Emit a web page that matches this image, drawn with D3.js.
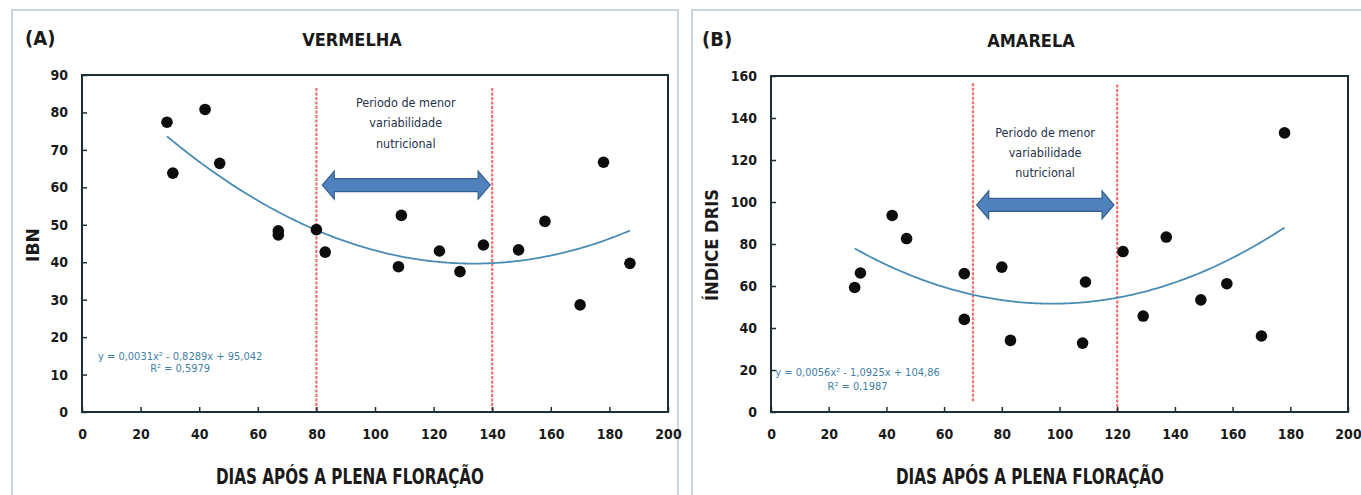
<!DOCTYPE html>
<html>
<head>
<meta charset="utf-8">
<script src="https://cdn.jsdelivr.net/npm/d3@7"></script>
<style>
  html, body { margin: 0; padding: 0; background: #ffffff; }
  svg { display: block; }
</style>
</head>
<body>
<svg id="chart" width="1361" height="495"></svg>
<script>
// ---------------- DATA ----------------
const xTicks = [0, 20, 40, 60, 80, 100, 120, 140, 160, 180, 200];

const vermelhaDays = [29, 31, 42, 47, 67, 67, 80, 83, 108, 109, 122, 129, 137, 149, 158, 170, 178, 187];
const vermelhaIBN  = [77.4, 63.8, 80.8, 66.4, 47.3, 48.4, 48.7, 42.7, 38.8, 52.5, 43.0, 37.5, 44.6, 43.3, 50.9, 28.6, 66.7, 39.7];
const vermelhaYTicks = [0, 10, 20, 30, 40, 50, 60, 70, 80, 90];
const vermelhaTrend = [0.0031, -0.8289, 95.042];   // a, b, c of y = a x² + b x + c
const vermelhaPeriod = [80, 140];
const vermelhaEquation = ["y = 0,0031x² - 0,8289x + 95,042", "R² = 0,5979"];

const amarelaDays = [29, 31, 42, 47, 67, 67, 80, 83, 108, 109, 122, 129, 137, 149, 158, 170, 178];
const amarelaDRIS = [59.3, 66.2, 93.6, 82.6, 65.9, 44.1, 69.0, 34.1, 32.8, 61.9, 76.4, 45.7, 83.3, 53.4, 61.1, 36.2, 132.9];
const amarelaYTicks = [0, 20, 40, 60, 80, 100, 120, 140, 160];
const amarelaTrend = [0.0056, -1.0925, 104.86];
const amarelaPeriod = [70, 120];
const amarelaEquation = ["y = 0,0056x² - 1,0925x + 104,86", "R² = 0,1987"];

const periodLabel = ["Periodo de menor", "variabilidade", "nutricional"];
const xTitle = "DIAS APÓS A PLENA FLORAÇÃO";

// ---------------- LAYOUT ----------------
const NARROW = "'Liberation Sans Narrow', 'DejaVu Sans Condensed', 'Liberation Sans', sans-serif";
const panels = [
  {
    tag: "(A)", title: "VERMELHA", yTitle: "IBN",
    days: vermelhaDays, vals: vermelhaIBN, yTicks: vermelhaYTicks, yMax: 90,
    trend: vermelhaTrend, period: vermelhaPeriod, equation: vermelhaEquation,
    frame: {x: 12, y: 10, w: 666, h: 500},
    plot: {l: 82, r: 668, t: 75, b: 412},
    tagPos: [25, 45], titleX: 352, titleY: 46,
    yTitlePos: [39, 245], yTitleLen: 34,
    xTitleX: 350, xTitleY: 484,
    periodTop: [86.5, 86.5], periodBottom: [0, 0],
    arrow: {x0: 82, x1: 139.3, y: 60.6},
    labelAt: {x: 110.5, y: [82.5, 77.2, 71.8]},
    eqAt: {x: 33.5, y: [15.0, 11.8]}
  },
  {
    tag: "(B)", title: "AMARELA", yTitle: "ÍNDICE DRIS",
    days: amarelaDays, vals: amarelaDRIS, yTicks: amarelaYTicks, yMax: 160,
    trend: amarelaTrend, period: amarelaPeriod, equation: amarelaEquation,
    frame: {x: 692, y: 10, w: 700, h: 500},
    plot: {l: 771, r: 1348, t: 76, b: 412},
    tagPos: [702, 46], titleX: 1031, titleY: 47,
    yTitlePos: [718, 245], yTitleLen: 112,
    xTitleX: 1030, xTitleY: 484,
    periodTop: [156.5, 156], periodBottom: [5, 0],
    arrow: {x0: 71.3, x1: 118.9, y: 98.6},
    labelAt: {x: 95, y: [132.8, 123.3, 113.8]},
    eqAt: {x: 30, y: [19.0, 12.4]}
  }
];

const svg = d3.select("#chart");

panels.forEach(p => {
  const g = svg.append("g");

  // panel frame
  g.append("rect")
    .attr("x", p.frame.x).attr("y", p.frame.y)
    .attr("width", p.frame.w).attr("height", p.frame.h)
    .attr("fill", "none").attr("stroke", "#b7c9d6").attr("stroke-width", 1.5);

  const x = d3.scaleLinear().domain([0, 200]).range([p.plot.l, p.plot.r]);
  const y = d3.scaleLinear().domain([0, p.yMax]).range([p.plot.b, p.plot.t]);

  // tag and title
  g.append("text").attr("x", p.tagPos[0]).attr("y", p.tagPos[1])
    .attr("font-family", NARROW).attr("font-weight", "bold").attr("font-size", 20)
    .attr("fill", "#1a1a1a").text(p.tag);
  g.append("text").attr("x", p.titleX).attr("y", p.titleY)
    .attr("text-anchor", "middle")
    .attr("font-family", NARROW).attr("font-weight", "bold").attr("font-size", 18)
    .attr("fill", "#1a1a1a").text(p.title);

  // period dashed lines
  p.period.forEach((d, i) => {
    g.append("line")
      .attr("x1", x(d)).attr("x2", x(d))
      .attr("y1", y(p.periodTop[i])).attr("y2", y(p.periodBottom[i]))
      .attr("stroke", "#ec5a52").attr("stroke-opacity", 0.85)
      .attr("stroke-width", 2.2).attr("stroke-dasharray", "3,1.5");
  });

  // axes (ticks inside)
  const xAxis = d3.axisBottom(x).tickValues(xTicks).tickSize(-5).tickPadding(14).tickFormat(d3.format("d"));
  const yAxis = d3.axisLeft(y).tickValues(p.yTicks).tickSize(-5).tickPadding(14).tickFormat(d3.format("d"));

  const gx = g.append("g").attr("transform", `translate(0,${p.plot.b})`).call(xAxis);
  const gy = g.append("g").attr("transform", `translate(${p.plot.l},0)`).call(yAxis);
  [gx, gy].forEach(a => {
    a.select(".domain").remove();
    a.selectAll(".tick line").attr("stroke", "#1d2f36").attr("stroke-width", 1.5);
    a.selectAll(".tick text")
      .attr("font-family", NARROW).attr("font-weight", "bold").attr("font-size", 14)
      .attr("fill", "#1a1a1a");
  });
  gx.selectAll(".tick text").attr("dy", "0.9em");

  // plot border
  g.append("rect")
    .attr("x", p.plot.l).attr("y", p.plot.t)
    .attr("width", p.plot.r - p.plot.l).attr("height", p.plot.b - p.plot.t)
    .attr("fill", "none").attr("stroke", "#1d2f36").attr("stroke-width", 2);

  // axis titles
  g.append("text")
    .attr("transform", `translate(${p.yTitlePos[0]},${p.yTitlePos[1]}) rotate(-90)`)
    .attr("text-anchor", "middle")
    .attr("font-family", NARROW).attr("font-weight", "bold").attr("font-size", 17)
    .attr("textLength", p.yTitleLen).attr("lengthAdjust", "spacingAndGlyphs")
    .attr("fill", "#1a1a1a").text(p.yTitle);
  g.append("text")
    .attr("x", p.xTitleX).attr("y", p.xTitleY)
    .attr("text-anchor", "middle")
    .attr("font-family", NARROW).attr("font-weight", "bold").attr("font-size", 21)
    .attr("textLength", 268).attr("lengthAdjust", "spacingAndGlyphs")
    .attr("fill", "#1a1a1a").text(xTitle);

  // trend line
  const [a, b, c] = p.trend;
  const xmin = d3.min(p.days), xmax = d3.max(p.days);
  const curve = d3.range(xmin, xmax + 0.001, 1).map(v => [v, a * v * v + b * v + c]);
  g.append("path")
    .datum(curve)
    .attr("d", d3.line().x(d => x(d[0])).y(d => y(d[1])).curve(d3.curveBasis))
    .attr("fill", "none").attr("stroke", "#4a8db2").attr("stroke-width", 1.8);

  // points
  g.append("g").selectAll("circle")
    .data(p.days.map((d, i) => [d, p.vals[i]]))
    .join("circle")
    .attr("cx", d => x(d[0])).attr("cy", d => y(d[1]))
    .attr("r", 5.8).attr("fill", "#0d0d0d");

  // double-headed arrow
  const ax0 = x(p.arrow.x0), ax1 = x(p.arrow.x1), ay = y(p.arrow.y);
  const hs = 6.5, hh = 14, hl = 12;
  const pts = [
    [ax0, ay], [ax0 + hl, ay - hh], [ax0 + hl, ay - hs], [ax1 - hl, ay - hs], [ax1 - hl, ay - hh],
    [ax1, ay], [ax1 - hl, ay + hh], [ax1 - hl, ay + hs], [ax0 + hl, ay + hs], [ax0 + hl, ay + hh]
  ];
  g.append("path")
    .attr("d", d3.line()(pts) + "Z")
    .attr("fill", "#4f81bd").attr("stroke", "#36608f").attr("stroke-width", 1.2);

  // period label
  periodLabel.forEach((t, i) => {
    g.append("text")
      .attr("x", x(p.labelAt.x)).attr("y", y(p.labelAt.y[i]))
      .attr("text-anchor", "middle").attr("dy", "0.35em")
      .attr("font-family", NARROW).attr("font-size", 12.5)
      .attr("fill", "#26324a").text(t);
  });

  // equation
  p.equation.forEach((t, i) => {
    g.append("text")
      .attr("x", x(p.eqAt.x)).attr("y", y(p.eqAt.y[i]))
      .attr("text-anchor", "middle").attr("dy", "0.35em")
      .attr("font-family", NARROW).attr("font-size", 11)
      .attr("fill", "#3f7fa6").text(t);
  });
});
</script>
</body>
</html>
